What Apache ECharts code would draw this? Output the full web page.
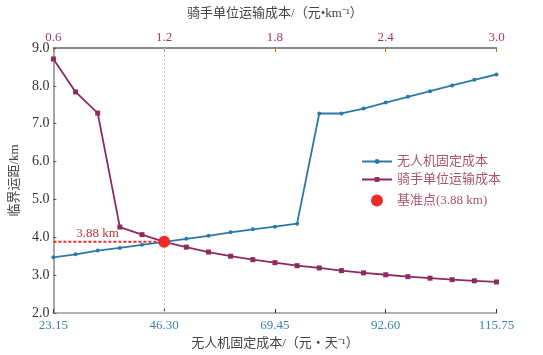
<!DOCTYPE html>
<html><head><meta charset="utf-8">
<script src="https://cdn.jsdelivr.net/npm/echarts@6/dist/echarts.min.js"></script>
<style>html,body{margin:0;padding:0;background:#fff}#c{width:543px;height:355px}</style>
</head><body><div id="c"></div>
<script>
const droneCost = [23.15,27.78,32.41,37.04,41.67,46.30,50.93,55.56,60.19,64.82,69.45,74.08,78.71,83.34,87.97,92.60,97.23,101.86,106.49,111.12,115.75];
const droneDist = [3.47,3.55,3.65,3.72,3.80,3.88,3.96,4.04,4.13,4.21,4.28,4.36,7.27,7.27,7.40,7.56,7.71,7.86,8.01,8.16,8.30];
const riderCost = [0.60,0.72,0.84,0.96,1.08,1.20,1.32,1.44,1.56,1.68,1.80,1.92,2.04,2.16,2.28,2.40,2.52,2.64,2.76,2.88,3.00];
const riderDist = [8.71,7.84,7.28,4.27,4.07,3.88,3.74,3.61,3.50,3.41,3.33,3.25,3.19,3.12,3.06,3.01,2.96,2.92,2.88,2.85,2.82];
const bottomTicks = [23.15,46.30,69.45,92.60,115.75];
const topTicks = [0.6,1.2,1.8,2.4,3.0];
const baseX = 46.30, baseY = 3.88;
const labelX = 32.4;

const FONT = '"Liberation Serif","Noto Sans CJK SC",serif';
const BLUE = '#2b7aa6', PURPLE = '#8c2b62', RED = '#ee2a2a';
const LEGEND_TEXT = {fontFamily: FONT, fontSize: 13, color: '#a8566e'};

const chart = echarts.init(document.getElementById('c'));
chart.setOption({
  animation: false,
  textStyle: {fontFamily: FONT},
  grid: {left: 52.5, right: 46.5, top: 48, bottom: 39.5},
  legend: [{
    data: ['无人机固定成本','骑手单位运输成本'],
    orient: 'vertical', left: 356, top: 150, itemWidth: 30, itemHeight: 6, itemGap: 5,
    textStyle: LEGEND_TEXT
  },{
    data: ['基准点(3.88 km)'],
    orient: 'vertical', left: 366, top: 189, itemWidth: 30, itemHeight: 12,
    textStyle: LEGEND_TEXT
  }],
  xAxis: [{
    type: 'value', position: 'bottom', min: 23.15, max: 115.75,
    name: '无人机固定成本/（元・天⁻¹）', nameLocation: 'middle', nameGap: 24,
    nameTextStyle: {fontFamily: FONT, fontSize: 13, color: '#444'},
    axisLine: {lineStyle: {color: '#999', width: 1.5}},
    axisTick: {inside: true, length: 4, customValues: bottomTicks, lineStyle: {color: '#333'}},
    axisLabel: {customValues: bottomTicks, formatter: v => v.toFixed(2), color: '#3b80a8', fontSize: 13, margin: 6, fontFamily: FONT},
    splitLine: {show: false}
  },{
    type: 'value', position: 'top', min: 0.6, max: 3.0,
    name: '骑手单位运输成本/（元•km⁻¹）', nameLocation: 'middle', nameGap: 28,
    nameTextStyle: {fontFamily: FONT, fontSize: 13, color: '#444'},
    axisLine: {lineStyle: {color: '#666', width: 1.5}},
    axisTick: {inside: true, length: 4, customValues: topTicks, lineStyle: {color: '#c07030'}},
    axisLabel: {customValues: topTicks, formatter: v => v.toFixed(1), color: '#9b3a6f', fontSize: 13, margin: 4, fontFamily: FONT},
    splitLine: {show: false}
  }],
  yAxis: {
    type: 'value', min: 2, max: 9, interval: 1,
    name: '临界运距/km', nameLocation: 'middle', nameGap: 31,
    nameTextStyle: {fontFamily: FONT, fontSize: 13, color: '#444'},
    axisLine: {show: true, lineStyle: {color: '#888', width: 1.5}},
    axisTick: {show: true, inside: true, length: 3, lineStyle: {color: '#555'}},
    axisLabel: {formatter: v => v.toFixed(1), color: '#333', fontSize: 14, margin: 4, fontFamily: FONT},
    splitLine: {show: false}
  },
  series: [{
    name: '参考线', type: 'line', xAxisIndex: 0, symbol: 'none', silent: true, z: 1,
    data: [[droneCost[0], baseY], [baseX, baseY]],
    lineStyle: {color: RED, width: 2, type: [3, 2]},
    markLine: {
      silent: true, symbol: 'none', label: {show: false},
      lineStyle: {color: '#c8c8c8', width: 1, type: [2, 2]},
      data: [{xAxis: baseX}]
    },
    markPoint: {
      symbol: 'circle', symbolSize: 0,
      label: {show: true, formatter: '3.88 km', color: '#b8363a', fontSize: 13, fontFamily: FONT, position: 'top', distance: 2},
      data: [{coord: [labelX, baseY]}]
    }
  },{
    name: '无人机固定成本', type: 'line', xAxisIndex: 0, z: 3,
    data: droneCost.map((x, i) => [x, droneDist[i]]),
    symbol: 'circle', symbolSize: 4,
    lineStyle: {color: BLUE, width: 1.8}, itemStyle: {color: BLUE}
  },{
    name: '骑手单位运输成本', type: 'line', xAxisIndex: 1, z: 3,
    data: riderCost.map((x, i) => [x, riderDist[i]]),
    symbol: 'rect', symbolSize: 5,
    lineStyle: {color: PURPLE, width: 1.8}, itemStyle: {color: PURPLE}
  },{
    name: '基准点(3.88 km)', type: 'scatter', xAxisIndex: 0, z: 5,
    data: [[baseX, baseY]], symbolSize: 12, itemStyle: {color: RED, opacity: 1}
  }]
});
</script></body></html>
